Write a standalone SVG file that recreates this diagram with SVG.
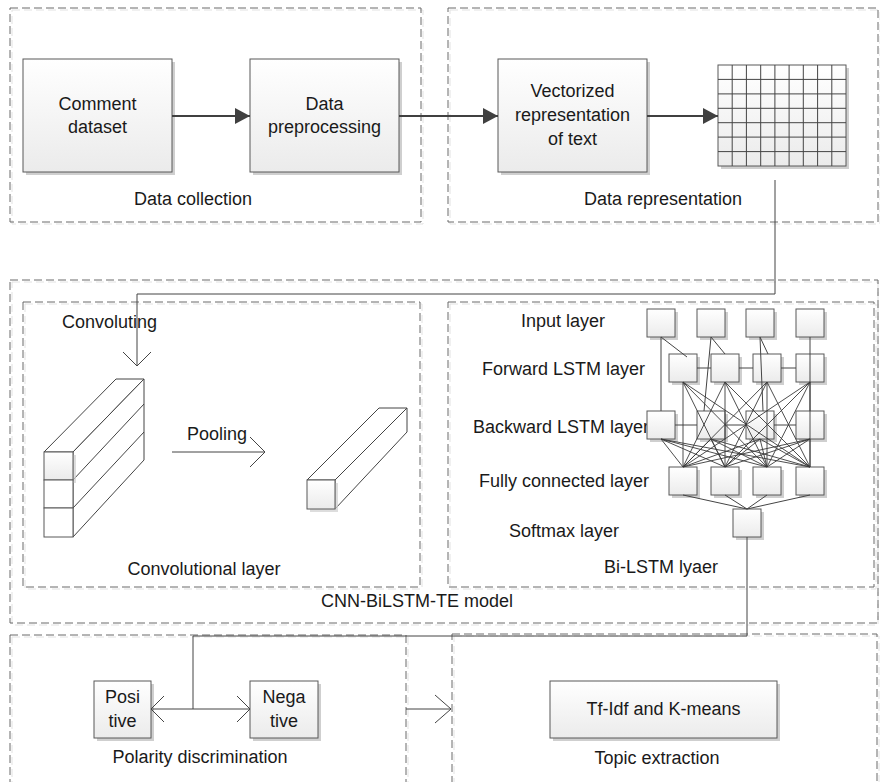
<svg xmlns="http://www.w3.org/2000/svg" width="880" height="782" viewBox="0 0 880 782">
<defs>
<linearGradient id="gf" x1="0" y1="0" x2="0" y2="1">
<stop offset="0" stop-color="#ffffff"/>
<stop offset="1" stop-color="#ebebeb"/>
</linearGradient>
<marker id="fa" viewBox="0 0 15 16" refX="15" refY="8" markerWidth="15" markerHeight="16" markerUnits="userSpaceOnUse" orient="auto">
<path d="M0,0 L15,8 L0,16 z" fill="#404040"/>
</marker>
</defs>
<style>
.grp{fill:none;stroke:#6a6a6a;stroke-width:1;stroke-dasharray:8 4}
.gsh{fill:none;stroke:#e2e2e2;stroke-width:1;stroke-dasharray:8 4}
.box{fill:url(#gf);stroke:#595959;stroke-width:1}
.sh{fill:#cfcfcf}
.wb{fill:#ffffff;stroke:#595959;stroke-width:1}
.t{font-family:"Liberation Sans",Arial,sans-serif;font-size:18px;fill:#1a1a1a}
.m{text-anchor:middle}
.fat{stroke:#404040;stroke-width:2.2;fill:none}
.ln{stroke:#444;stroke-width:1;fill:none}
.mesh{stroke:#3a3a3a;stroke-width:0.9;fill:none}
.gl{stroke:#444;stroke-width:1}
</style>

<!-- group frames -->
<g id="data-collection">
<rect class="gsh" x="12" y="10" width="411" height="214"/>
<rect class="grp" x="10" y="8" width="411" height="214"/>
<text class="t m" x="193" y="205">Data collection</text>
</g>
<g id="data-representation">
<rect class="gsh" x="450" y="10" width="430" height="214"/>
<rect class="grp" x="448" y="8" width="430" height="214"/>
<text class="t m" x="663" y="205">Data representation</text>
</g>
<g id="cnn-bilstm-te-model">
<rect class="gsh" x="12" y="282" width="866" height="343"/>
<rect class="grp" x="10" y="280" width="868" height="343"/>
<text class="t m" x="417" y="607">CNN-BiLSTM-TE model</text>
</g>
<g id="convolutional-layer">
<rect class="gsh" x="25" y="304" width="397" height="285"/>
<rect class="grp" x="23" y="302" width="397" height="285"/>
<text class="t m" x="204" y="575">Convolutional layer</text>
<text class="t" x="62" y="328">Convoluting</text>
<text class="t" x="187" y="440">Pooling</text>
</g>
<g id="bilstm-layer">
<rect class="gsh" x="450" y="304" width="426" height="285"/>
<rect class="grp" x="448" y="302" width="426" height="285"/>
<text class="t m" x="661" y="573">Bi-LSTM lyaer</text>
<text class="t" x="521" y="327">Input layer</text>
<text class="t" x="482" y="375">Forward LSTM layer</text>
<text class="t" x="473" y="433">Backward LSTM layer</text>
<text class="t" x="479" y="487">Fully connected layer</text>
<text class="t" x="509" y="537">Softmax layer</text>
</g>
<g id="polarity-discrimination">
<rect class="gsh" x="12" y="637" width="396" height="160"/>
<rect class="grp" x="10" y="635" width="396" height="160"/>
<text class="t m" x="200" y="763">Polarity discrimination</text>
</g>
<g id="topic-extraction">
<rect class="gsh" x="454" y="636" width="425" height="160"/>
<rect class="grp" x="452" y="634" width="425" height="160"/>
<text class="t m" x="657" y="764">Topic extraction</text>
</g>

<!-- nodes -->
<g id="comment-dataset">
<rect class="sh" x="26" y="62" width="149" height="113"/>
<rect class="box" x="23" y="59" width="149" height="113"/>
<text class="t m" x="97.5" y="110">Comment</text>
<text class="t m" x="97.5" y="133">dataset</text>
</g>
<g id="data-preprocessing">
<rect class="sh" x="253" y="62" width="149" height="113"/>
<rect class="box" x="250" y="59" width="149" height="113"/>
<text class="t m" x="324.5" y="110">Data</text>
<text class="t m" x="324.5" y="133">preprocessing</text>
</g>
<g id="vectorized-representation">
<rect class="sh" x="501" y="62" width="149" height="113"/>
<rect class="box" x="498" y="59" width="149" height="113"/>
<text class="t m" x="572.5" y="97">Vectorized</text>
<text class="t m" x="572.5" y="121">representation</text>
<text class="t m" x="572.5" y="145">of text</text>
</g>
<g id="matrix">
<rect class="sh" x="721" y="68" width="128" height="101"/>
<rect class="box" x="718" y="65" width="128" height="101"/>
<g class="gl">
<line x1="732.2" y1="65" x2="732.2" y2="166"/>
<line x1="746.4" y1="65" x2="746.4" y2="166"/>
<line x1="760.7" y1="65" x2="760.7" y2="166"/>
<line x1="774.9" y1="65" x2="774.9" y2="166"/>
<line x1="789.1" y1="65" x2="789.1" y2="166"/>
<line x1="803.3" y1="65" x2="803.3" y2="166"/>
<line x1="817.6" y1="65" x2="817.6" y2="166"/>
<line x1="831.8" y1="65" x2="831.8" y2="166"/>
<line x1="718" y1="79.4" x2="846" y2="79.4"/>
<line x1="718" y1="93.9" x2="846" y2="93.9"/>
<line x1="718" y1="108.3" x2="846" y2="108.3"/>
<line x1="718" y1="122.7" x2="846" y2="122.7"/>
<line x1="718" y1="137.1" x2="846" y2="137.1"/>
<line x1="718" y1="151.6" x2="846" y2="151.6"/>
</g>
</g>
<g id="conv-block">
<polygon points="44,452 73,452 144,379 116,379" fill="#ffffff" stroke="#444" stroke-width="1"/>
<polygon points="73,452 144,379 144,460 73,537" fill="#ffffff" stroke="#444" stroke-width="1"/>
<line x1="73" y1="480" x2="144" y2="404" stroke="#444"/>
<line x1="73" y1="508" x2="144" y2="432" stroke="#444"/>
<rect class="sh" x="47" y="455" width="29" height="28" opacity="0.7"/>
<rect class="box" x="44" y="452" width="29" height="28"/>
<rect class="wb" x="44" y="480" width="29" height="28"/>
<rect class="wb" x="44" y="508" width="29" height="29"/>
</g>
<g id="pooled-block">
<polygon points="307,480 335,480 407,408 379,408" fill="#ffffff" stroke="#444" stroke-width="1"/>
<polygon points="335,480 407,408 407,432 335,509" fill="#ffffff" stroke="#444" stroke-width="1"/>
<rect class="sh" x="310" y="483" width="28" height="29" opacity="0.7"/>
<rect class="box" x="307" y="480" width="28" height="29"/>
</g>
<g id="input-layer">
<rect class="sh" x="650" y="312" width="28" height="28"/><rect class="box" x="647" y="309" width="28" height="28"/>
<rect class="sh" x="700" y="312" width="28" height="28"/><rect class="box" x="697" y="309" width="28" height="28"/>
<rect class="sh" x="749" y="312" width="28" height="28"/><rect class="box" x="746" y="309" width="28" height="28"/>
<rect class="sh" x="799" y="312" width="28" height="28"/><rect class="box" x="796" y="309" width="28" height="28"/>
</g>
<g id="forward-lstm-layer">
<rect class="sh" x="672" y="357" width="28" height="28"/><rect class="box" x="669" y="354" width="28" height="28"/>
<rect class="sh" x="714" y="357" width="28" height="28"/><rect class="box" x="711" y="354" width="28" height="28"/>
<rect class="sh" x="756" y="357" width="28" height="28"/><rect class="box" x="753" y="354" width="28" height="28"/>
<rect class="sh" x="799" y="357" width="28" height="28"/><rect class="box" x="796" y="354" width="28" height="28"/>
</g>
<g id="backward-lstm-layer">
<rect class="sh" x="650" y="414" width="28" height="28"/><rect class="box" x="647" y="411" width="28" height="28"/>
<rect class="sh" x="700" y="414" width="28" height="28"/><rect class="box" x="697" y="411" width="28" height="28"/>
<rect class="sh" x="749" y="414" width="28" height="28"/><rect class="box" x="746" y="411" width="28" height="28"/>
<rect class="sh" x="799" y="414" width="28" height="28"/><rect class="box" x="796" y="411" width="28" height="28"/>
</g>
<g id="fully-connected-layer">
<rect class="sh" x="672" y="470" width="28" height="28"/><rect class="box" x="669" y="467" width="28" height="28"/>
<rect class="sh" x="714" y="470" width="28" height="28"/><rect class="box" x="711" y="467" width="28" height="28"/>
<rect class="sh" x="756" y="470" width="28" height="28"/><rect class="box" x="753" y="467" width="28" height="28"/>
<rect class="sh" x="799" y="470" width="28" height="28"/><rect class="box" x="796" y="467" width="28" height="28"/>
</g>
<g id="softmax-layer">
<rect class="sh" x="736" y="512" width="28" height="28"/><rect class="box" x="733" y="509" width="28" height="28"/>
</g>
<g id="positive">
<rect class="sh" x="97" y="684" width="57" height="57"/>
<rect class="box" x="94" y="681" width="57" height="57"/>
<text class="t m" x="122.5" y="703">Posi</text>
<text class="t m" x="122.5" y="727">tive</text>
</g>
<g id="negative">
<rect class="sh" x="253" y="684" width="68" height="57"/>
<rect class="box" x="250" y="681" width="68" height="57"/>
<text class="t m" x="284" y="703">Nega</text>
<text class="t m" x="284" y="727">tive</text>
</g>
<g id="tfidf-kmeans">
<rect class="sh" x="553" y="684" width="227" height="57"/>
<rect class="box" x="550" y="681" width="227" height="57"/>
<text class="t m" x="663.5" y="715">Tf-Idf and K-means</text>
</g>

<!-- connectors -->
<g id="connectors">
<line class="fat" x1="172" y1="116" x2="250" y2="116" marker-end="url(#fa)"/>
<line class="fat" x1="399" y1="116" x2="498" y2="116" marker-end="url(#fa)"/>
<line class="fat" x1="647" y1="116" x2="718" y2="116" marker-end="url(#fa)"/>
<polyline class="ln" points="775,180 775,294 137,294 137,366"/>
<polyline class="ln" points="123,352 137,366 151,352"/>
<line class="ln" x1="172" y1="452" x2="265" y2="452"/>
<polyline class="ln" points="250,437 265,452 250,467"/>
<!-- input to forward/backward -->
<line class="ln" x1="661" y1="337" x2="687" y2="357"/>
<line class="ln" x1="661" y1="337" x2="661" y2="411"/>
<line class="ln" x1="711" y1="337" x2="725" y2="354"/>
<line class="ln" x1="711" y1="337" x2="704" y2="411"/>
<line class="ln" x1="760" y1="337" x2="768" y2="354"/>
<line class="ln" x1="760" y1="337" x2="763" y2="411"/>
<line class="ln" x1="810" y1="337" x2="810" y2="411"/>
<!-- chains -->
<line class="ln" x1="697" y1="368" x2="711" y2="368"/>
<line class="ln" x1="739" y1="368" x2="753" y2="368"/>
<line class="ln" x1="781" y1="368" x2="796" y2="368"/>
<line class="ln" x1="675" y1="425" x2="697" y2="425"/>
<line class="ln" x1="725" y1="425" x2="746" y2="425"/>
<line class="ln" x1="774" y1="425" x2="796" y2="425"/>
<!-- mesh forward -> fc -->
<g class="mesh">
<line x1="683" y1="382" x2="683" y2="467"/><line x1="683" y1="382" x2="725" y2="467"/><line x1="683" y1="382" x2="767" y2="467"/><line x1="683" y1="382" x2="810" y2="467"/>
<line x1="725" y1="382" x2="683" y2="467"/><line x1="725" y1="382" x2="725" y2="467"/><line x1="725" y1="382" x2="767" y2="467"/><line x1="725" y1="382" x2="810" y2="467"/>
<line x1="767" y1="382" x2="683" y2="467"/><line x1="767" y1="382" x2="725" y2="467"/><line x1="767" y1="382" x2="767" y2="467"/><line x1="767" y1="382" x2="810" y2="467"/>
<line x1="810" y1="382" x2="683" y2="467"/><line x1="810" y1="382" x2="725" y2="467"/><line x1="810" y1="382" x2="767" y2="467"/><line x1="810" y1="382" x2="810" y2="467"/>
<line x1="661" y1="439" x2="683" y2="467"/><line x1="661" y1="439" x2="725" y2="467"/><line x1="661" y1="439" x2="767" y2="467"/><line x1="661" y1="439" x2="810" y2="467"/>
<line x1="711" y1="439" x2="683" y2="467"/><line x1="711" y1="439" x2="725" y2="467"/><line x1="711" y1="439" x2="767" y2="467"/><line x1="711" y1="439" x2="810" y2="467"/>
<line x1="760" y1="439" x2="683" y2="467"/><line x1="760" y1="439" x2="725" y2="467"/><line x1="760" y1="439" x2="767" y2="467"/><line x1="760" y1="439" x2="810" y2="467"/>
<line x1="810" y1="439" x2="683" y2="467"/><line x1="810" y1="439" x2="725" y2="467"/><line x1="810" y1="439" x2="767" y2="467"/><line x1="810" y1="439" x2="810" y2="467"/>
</g>
<!-- fc -> softmax -->
<line class="ln" x1="683" y1="495" x2="747" y2="509"/>
<line class="ln" x1="725" y1="495" x2="747" y2="509"/>
<line class="ln" x1="767" y1="495" x2="747" y2="509"/>
<line class="ln" x1="810" y1="495" x2="747" y2="509"/>
<!-- softmax -> polarity -->
<polyline class="ln" points="747,537 747,636 193,636 193,709"/>
<line class="ln" x1="151" y1="709" x2="250" y2="709"/>
<polyline class="ln" points="164,696 151,709 164,722"/>
<polyline class="ln" points="237,696 250,709 237,722"/>
<!-- polarity -> topic -->
<line class="ln" x1="406" y1="709" x2="451" y2="709"/>
<polyline class="ln" points="435,695 451,709 435,723"/>
</g>
</svg>
